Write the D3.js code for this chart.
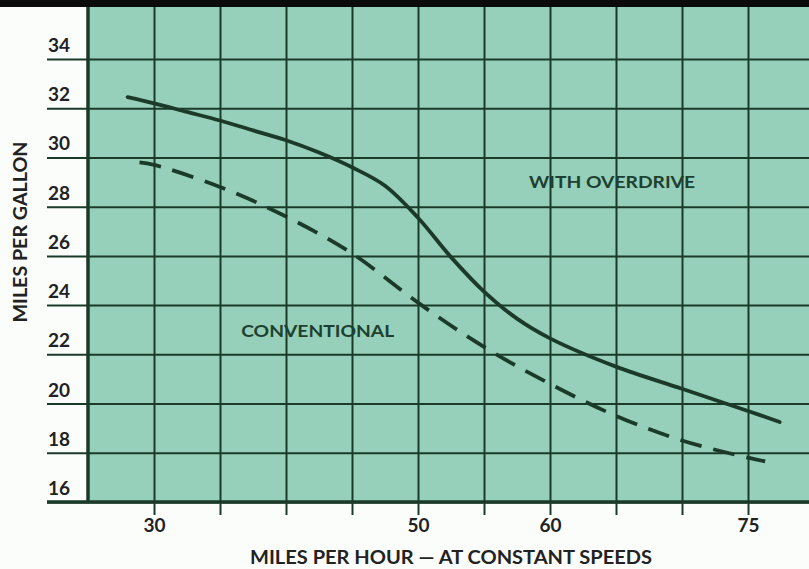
<!DOCTYPE html>
<html>
<head>
<meta charset="utf-8">
<script src="https://cdn.jsdelivr.net/npm/d3@7"></script>
<style>
  html, body { margin: 0; padding: 0; background: #fbfdfb; }
  svg { display: block; }
  text { font-family: Lato, "Open Sans", sans-serif; }
</style>
</head>
<body>
<svg id="chart" width="809" height="569"></svg>
<script>
// Fuel economy at constant speeds
const overdriveSpeed = [28, 30, 32.5, 35, 37.5, 40, 42.5, 45, 47.5, 50, 52.5, 55, 57.5, 60, 65, 70, 75, 77.4];
const overdriveMpg   = [32.45, 32.2, 31.85, 31.5, 31.1, 30.7, 30.2, 29.6, 28.85, 27.55, 25.95, 24.55, 23.45, 22.65, 21.5, 20.6, 19.7, 19.25];

const conventionalSpeed = [28.9, 30, 35, 40, 45, 50, 55, 60, 65, 70, 75, 76.3];
const conventionalMpg   = [29.8, 29.7, 28.8, 27.6, 26.1, 24.1, 22.3, 20.8, 19.5, 18.5, 17.8, 17.65];

const speedGrid   = [30, 35, 40, 45, 50, 55, 60, 65, 70, 75, 80];
const speedLabels = [30, 50, 60, 75];
const mpgTicks    = [16, 18, 20, 22, 24, 26, 28, 30, 32, 34];

const seriesLabels = [
  { text: "WITH OVERDRIVE", speed: 64.7, mpg: 28.75, width: 166 },
  { text: "CONVENTIONAL",   speed: 42.4, mpg: 22.7,  width: 153 }
];

const W = 809, H = 569;
const plot = { left: 88, right: 809, top: 0, bottom: 502 };
const ink = "#1b3a2a";
const paper = "#96d0ba";

const x = d3.scaleLinear().domain([25, 80]).range([88, 814]);
const y = d3.scaleLinear().domain([16, 34]).range([502, 59]);

const svg = d3.select("#chart");

// plot background
svg.append("rect")
  .attr("x", plot.left).attr("y", plot.top)
  .attr("width", plot.right - plot.left).attr("height", plot.bottom - plot.top)
  .attr("fill", paper);

// vertical grid lines
const gx = svg.append("g").attr("transform", `translate(0,${plot.bottom})`)
  .call(d3.axisBottom(x).tickValues(speedGrid).tickSize(-(plot.bottom - plot.top)).tickFormat(""));
gx.select(".domain").remove();
gx.selectAll("line").attr("stroke", ink).attr("stroke-width", 2);

// short ticks below the axis
const gxt = svg.append("g").attr("transform", `translate(0,${plot.bottom})`)
  .call(d3.axisBottom(x).tickValues(speedGrid).tickSize(13).tickPadding(8)
    .tickFormat(d => speedLabels.includes(d) ? d : ""));
gxt.select(".domain").remove();
gxt.selectAll("line").attr("stroke", ink).attr("stroke-width", 2);
gxt.selectAll("text")
  .attr("fill", "#222").attr("font-size", 19).attr("font-weight", 700).attr("dy", "0.45em");

// horizontal grid lines extending left past the frame
const gy = svg.append("g").attr("transform", `translate(${plot.right},0)`)
  .call(d3.axisLeft(y).tickValues(mpgTicks).tickSize(plot.right - 47).tickPadding(0).tickFormat(""));
gy.select(".domain").remove();
gy.selectAll("line").attr("stroke", ink).attr("stroke-width", 2);

// y tick labels sit above their line
svg.append("g").selectAll("text")
  .data(mpgTicks)
  .join("text")
  .attr("x", 59).attr("y", d => y(d) - 7)
  .attr("text-anchor", "middle")
  .attr("fill", "#222").attr("font-size", 19).attr("font-weight", 700)
  .text(d => d);

// frame: left and bottom borders
svg.append("line")
  .attr("x1", plot.left).attr("x2", plot.left)
  .attr("y1", plot.top).attr("y2", plot.bottom + 1)
  .attr("stroke", ink).attr("stroke-width", 3.5);
svg.append("line")
  .attr("x1", 47).attr("x2", plot.right)
  .attr("y1", plot.bottom).attr("y2", plot.bottom)
  .attr("stroke", ink).attr("stroke-width", 3.5);

// top black band
svg.append("rect").attr("x", 0).attr("y", 0).attr("width", W).attr("height", 7).attr("fill", "#0b0b0b");

// curves
const line = d3.line().x(d => x(d[0])).y(d => y(d[1])).curve(d3.curveCatmullRom.alpha(0.5));

svg.append("path")
  .datum(d3.zip(overdriveSpeed, overdriveMpg))
  .attr("d", line)
  .attr("fill", "none").attr("stroke", ink)
  .attr("stroke-width", 3.8).attr("stroke-linecap", "round");

svg.append("path")
  .datum(d3.zip(conventionalSpeed, conventionalMpg))
  .attr("d", line)
  .attr("fill", "none").attr("stroke", ink)
  .attr("stroke-width", 3.8).attr("stroke-dasharray", "22 12");

// series labels
svg.append("g").selectAll("text")
  .data(seriesLabels)
  .join("text")
  .attr("x", d => x(d.speed)).attr("y", d => y(d.mpg))
  .attr("text-anchor", "middle")
  .attr("fill", "#1d4030").attr("font-size", 17).attr("font-weight", 700)
  .attr("textLength", d => d.width).attr("lengthAdjust", "spacingAndGlyphs")
  .text(d => d.text);

// axis titles
svg.append("text")
  .attr("x", 451).attr("y", 564)
  .attr("text-anchor", "middle")
  .attr("fill", "#222").attr("font-size", 18).attr("font-weight", 700)
  .attr("textLength", 402).attr("lengthAdjust", "spacingAndGlyphs")
  .text("MILES PER HOUR — AT CONSTANT SPEEDS");

svg.append("text")
  .attr("transform", "translate(27,232) rotate(-90)")
  .attr("text-anchor", "middle")
  .attr("fill", "#222").attr("font-size", 18).attr("font-weight", 700)
  .attr("textLength", 181).attr("lengthAdjust", "spacingAndGlyphs")
  .text("MILES PER GALLON");
</script>
</body>
</html>
